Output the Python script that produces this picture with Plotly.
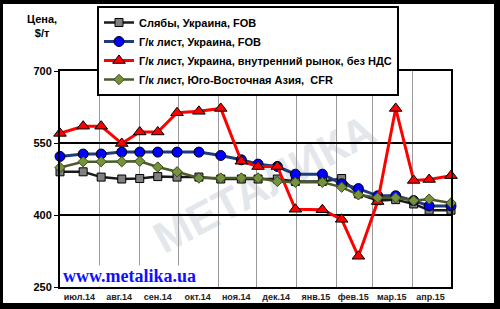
import plotly.graph_objects as go

# ---- data ----
dates = ["2014-07-01", "2014-07-19", "2014-08-02", "2014-08-18", "2014-09-01",
         "2014-09-15", "2014-09-30", "2014-10-17", "2014-11-03", "2014-11-19",
         "2014-12-02", "2014-12-17", "2014-12-31", "2015-01-21", "2015-02-05",
         "2015-02-18", "2015-03-05", "2015-03-19", "2015-04-02", "2015-04-14",
         "2015-05-01"]
slabs_fob = [490, 490, 479, 475, 476, 480, 479, 479, 475, 475, 475, 475,
             470, 470, 476, 444, 430, 432, 423, 410, 410]
hrc_fob = [522, 527, 527, 531, 531, 531, 531, 531, 524, 515, 506, 501,
           485, 485, 465, 455, 440, 440, 430, 419, 419]
hrc_domestic = [570, 585, 585, 549, 573, 573, 613, 616, 622, 512, 501, 501,
                412, 411, 391, 314, 428, 622, 472, 474, 482]
hrc_sea_cfr = [499, 511, 511, 511, 512, 500, 490, 477, 477, 477, 477, 470,
               468, 468, 458, 442, 436, 436, 430, 433, 425]

series_names = ["Слябы, Украина, FOB",
                "Г/к лист, Украина, FOB",
                "Г/к лист, Украина, внутренний рынок, без НДС",
                "Г/к лист, Юго-Восточная Азия,  CFR"]

month_starts = ["2014-07-01", "2014-08-01", "2014-09-01", "2014-10-01", "2014-11-01",
                "2014-12-01", "2015-01-01", "2015-02-01", "2015-03-01", "2015-04-01",
                "2015-05-01"]
month_mids = ["2014-07-16", "2014-08-16", "2014-09-15", "2014-10-16", "2014-11-15",
              "2014-12-16", "2015-01-16", "2015-02-14", "2015-03-16", "2015-04-15"]
month_labels = ["июл.14", "авг.14", "сен.14", "окт.14", "ноя.14",
                "дек.14", "янв.15", "фев.15", "мар.15", "апр.15"]
y_ticks = [250, 400, 550, 700]

# ---- layout helpers (pixel -> paper) ----
L, R, T, B = 60, 49, 71, 22
W, H = 500, 309
PW, PH = W - L - R, H - T - B


def px(x):
    return (x - L) / PW


def py(y):
    return (H - B - y) / PH


fig = go.Figure()

styles = [
    dict(line=dict(color="#1a1a1a", width=2.5),
         marker=dict(symbol="square", size=8, color="#808080", line=dict(color="#000", width=1))),
    dict(line=dict(color="#1F3B7A", width=3),
         marker=dict(symbol="circle", size=10, color="#0000FF", line=dict(color="#000", width=1))),
    dict(line=dict(color="#FF0000", width=3),
         marker=dict(symbol="triangle-up", size=11, color="#FF0000", line=dict(color="#000", width=1))),
    dict(line=dict(color="#4A5A28", width=2.5),
         marker=dict(symbol="diamond", size=8, color="#76923C", line=dict(color="#3a4a1a", width=1))),
]
for name, vals, st in zip(series_names, [slabs_fob, hrc_fob, hrc_domestic, hrc_sea_cfr], styles):
    fig.add_trace(go.Scatter(x=dates, y=vals, name=name, mode="lines+markers",
                             cliponaxis=False, **st))

shapes = [
    # white page on black background (frame + shadow)
    dict(type="rect", xref="paper", yref="paper", x0=px(3), x1=px(494), y0=py(303), y1=py(4),
         fillcolor="white", line=dict(width=0), layer="below"),
    # watermark
    dict(type="rect", xref="paper", yref="paper", x0=px(150), x1=px(375), y0=py(235), y1=py(125),
         line=dict(width=0), fillcolor="rgba(0,0,0,0)", layer="below",
         label=dict(text="МЕТАЛИКА", textangle=-28, textposition="middle center",
                    font=dict(family="Liberation Sans", size=44, color="#e3e7ec", weight="bold"))),
]

annotations = [
    dict(text="Цена,<br>$/т", xref="paper", yref="paper", x=px(42), y=py(26),
         showarrow=False, xanchor="center", yanchor="middle",
         font=dict(family="Liberation Sans", size=11, color="#000", weight="bold")),
    dict(text="www.metalika.ua", xref="paper", yref="paper", x=px(62), y=py(276),
         showarrow=False, xanchor="left", yanchor="middle", bgcolor="white", borderpad=0,
         font=dict(family="Liberation Serif", size=18, color="#1010FF", weight="bold")),
]

fig.update_layout(
    width=W, height=H,
    margin=dict(l=L, r=R, t=T, b=B, pad=0, autoexpand=False),
    paper_bgcolor="black",
    plot_bgcolor="white",
    shapes=shapes,
    annotations=annotations,
    showlegend=True,
    legend=dict(x=px(97), y=py(6), xanchor="left", yanchor="top",
                bgcolor="white", bordercolor="black", borderwidth=2,
                font=dict(family="Liberation Sans", size=11, color="#000", weight="bold"),
                itemwidth=30, tracegroupgap=0),
    xaxis=dict(type="date", range=["2014-07-01", "2015-05-01"],
               tickmode="array", tickvals=month_mids, ticktext=month_labels,
               showgrid=False, ticks="", zeroline=False, automargin=False,
               tickfont=dict(family="Liberation Sans", size=9, color="#222", weight="bold"),
               showline=True, linecolor="black", linewidth=2, mirror=True,
               minor=dict(tickmode="array", tickvals=month_starts, showgrid=True,
                          gridcolor="#9a9a9a", gridwidth=1, ticks="")),
    yaxis=dict(range=[250, 700], tickmode="array", tickvals=y_ticks, automargin=False,
               showgrid=True, gridcolor="black", gridwidth=2, zeroline=False,
               ticks="outside", ticklen=4, tickcolor="black", tickwidth=1,
               tickfont=dict(family="Liberation Sans", size=11, color="#000", weight="bold"),
               showline=True, linecolor="black", linewidth=2, mirror=True),
)

fig.write_html("out.html")
